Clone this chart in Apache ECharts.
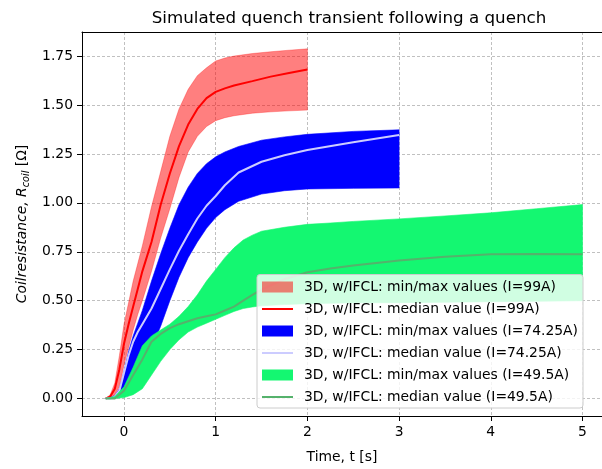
<!DOCTYPE html>
<html><head><meta charset="utf-8">
<script src="https://cdn.jsdelivr.net/npm/echarts@6/dist/echarts.min.js"></script>
<style>html,body{margin:0;padding:0;background:#fff}#c{width:602px;height:469px}</style>
</head><body><div id="c"></div>
<script>
const xTicks = [0, 1, 2, 3, 4, 5];
const yTicks = [0, 0.25, 0.5, 0.75, 1.0, 1.25, 1.5, 1.75];

// I = 99 A
const tRed    = [-0.2,-0.15,-0.1,-0.05,0,0.05,0.1,0.15,0.2,0.3,0.4,0.5,0.6,0.7,0.8,0.9,1.0,1.1,1.2,1.4,1.6,1.8,2.0];
const redLow  = [0,0,0.02,0.06,0.17,0.26,0.35,0.43,0.50,0.65,0.82,0.97,1.13,1.26,1.34,1.39,1.42,1.435,1.445,1.458,1.465,1.47,1.474];
const redMed  = [0,0.01,0.05,0.15,0.28,0.38,0.47,0.56,0.65,0.80,0.99,1.15,1.29,1.40,1.48,1.535,1.567,1.585,1.60,1.622,1.645,1.663,1.681];
const redHigh = [0,0.02,0.08,0.22,0.38,0.49,0.60,0.69,0.78,0.98,1.16,1.34,1.48,1.58,1.65,1.69,1.725,1.74,1.75,1.763,1.772,1.78,1.787];

// I = 74.25 A
const tBlue    = [-0.2,-0.15,-0.1,-0.05,0,0.05,0.1,0.15,0.2,0.3,0.4,0.5,0.6,0.7,0.8,0.9,1.0,1.1,1.25,1.5,1.75,2.0,2.5,3.0];
const blueLow  = [0,0,0.005,0.015,0.03,0.06,0.10,0.13,0.17,0.26,0.37,0.50,0.62,0.72,0.80,0.87,0.925,0.965,1.008,1.045,1.062,1.071,1.074,1.076];
const blueMed  = [0,0,0.01,0.04,0.13,0.22,0.29,0.34,0.38,0.46,0.56,0.66,0.755,0.84,0.92,0.985,1.035,1.09,1.155,1.21,1.243,1.27,1.31,1.347];
const blueHigh = [0,0.005,0.015,0.05,0.14,0.24,0.32,0.385,0.45,0.60,0.74,0.87,0.99,1.08,1.15,1.20,1.235,1.26,1.288,1.32,1.337,1.35,1.365,1.373];

// I = 49.5 A
const tGreen    = [-0.2,-0.1,0,0.1,0.2,0.3,0.4,0.5,0.6,0.7,0.8,0.9,1.0,1.1,1.2,1.3,1.4,1.5,1.75,2.0,2.25,2.5,3.0,3.5,4.0,4.5,5.0];
const greenLow  = [0,0,0.005,0.02,0.05,0.12,0.19,0.25,0.30,0.34,0.365,0.385,0.405,0.425,0.445,0.46,0.468,0.474,0.48,0.485,0.487,0.489,0.49,0.492,0.495,0.497,0.50];
const greenMed  = [0,0,0.04,0.12,0.20,0.29,0.33,0.36,0.38,0.395,0.41,0.42,0.43,0.45,0.47,0.50,0.53,0.557,0.61,0.645,0.665,0.68,0.705,0.725,0.737,0.738,0.737];
const greenHigh = [0,0.01,0.06,0.16,0.27,0.32,0.35,0.38,0.42,0.47,0.53,0.60,0.66,0.72,0.77,0.81,0.835,0.855,0.875,0.89,0.897,0.905,0.918,0.933,0.949,0.97,0.991];

const names = [
  '3D, w/IFCL: min/max values (I=99A)',
  '3D, w/IFCL: median value (I=99A)',
  '3D, w/IFCL: min/max values (I=74.25A)',
  '3D, w/IFCL: median value (I=74.25A)',
  '3D, w/IFCL: min/max values (I=49.5A)',
  '3D, w/IFCL: median value (I=49.5A)'
];

const FONT = 'DejaVu Sans';
const LINE_ICON = 'path://M0,0H100V6.5H0Z';
const X_MIN = -0.458, X_MAX = 5.213;

function band(name, t, lo, hi, color, z) {
  return {
    type: 'custom', name: name, z: z,
    coordinateSystem: 'cartesian2d',
    data: t.map((v, i) => [v, lo[i], hi[i]]),
    encode: { x: 0, y: [1, 2] },
    itemStyle: { color: color },
    silent: true,
    renderItem: function (params, api) {
      if (params.dataIndex !== 0) return null;
      const pts = [];
      for (let i = 0; i < t.length; i++) pts.push(api.coord([t[i], hi[i]]));
      for (let i = t.length - 1; i >= 0; i--) pts.push(api.coord([t[i], lo[i]]));
      return { type: 'polygon', shape: { points: pts }, style: { fill: color, stroke: color, lineWidth: 0.6 } };
    }
  };
}
function med(name, t, v, color, z) {
  return {
    type: 'line', name: name, z: z,
    data: t.map((x, i) => [x, v[i]]),
    symbol: 'none', showSymbol: false,
    lineStyle: { color: color, width: 2 },
    itemStyle: { color: color },
    silent: true, animation: false
  };
}

const chart = echarts.init(document.getElementById('c'));
chart.setOption({
  animation: false,
  backgroundColor: '#fff',
  title: {
    text: 'Simulated quench transient following a quench',
    left: 344, textAlign: 'center', top: 5,
    textStyle: { fontFamily: FONT, fontSize: 16.7, fontWeight: 'normal', color: '#000' }
  },
  grid: { left: 82, right: 0, top: 32, bottom: 51, show: false },
  legend: {
    orient: 'vertical', left: 257, top: 274.5,
    padding: [5.5, 5, 4, 5], itemGap: 8, itemWidth: 31, itemHeight: 11,
    backgroundColor: 'rgba(255,255,255,0.8)', borderColor: '#cccccc', borderWidth: 1, borderRadius: 3,
    z: 20,
    textStyle: { fontFamily: FONT, fontSize: 13.9, color: '#000', padding: [0, 0, 0, 6] },
    data: [
      { name: names[0], icon: 'rect' },
      { name: names[1], icon: LINE_ICON },
      { name: names[2], icon: 'rect' },
      { name: names[3], icon: LINE_ICON },
      { name: names[4], icon: 'rect' },
      { name: names[5], icon: LINE_ICON }
    ]
  },
  xAxis: [{
    type: 'value', min: X_MIN, max: X_MAX,
    name: 'Time, t [s]', nameLocation: 'middle', nameGap: 34,
    nameTextStyle: { fontFamily: FONT, fontSize: 13.9, color: '#000' },
    axisLine: { show: true, onZero: false, lineStyle: { color: '#000', width: 1 } },
    axisTick: { show: true, length: 5, lineStyle: { color: '#000', width: 1 }, customValues: xTicks },
    axisLabel: { customValues: xTicks, margin: 9, fontFamily: FONT, fontSize: 13.9, color: '#000', formatter: v => String(v) },
    splitLine: { show: true, lineStyle: { color: '#b0b0b0', width: 0.8, type: [3, 2] } }
  }, {
    type: 'value', position: 'top', min: X_MIN, max: X_MAX,
    axisLine: { show: true, onZero: false, lineStyle: { color: '#000', width: 1 } },
    axisTick: { show: false }, axisLabel: { show: false }, splitLine: { show: false }
  }],
  yAxis: {
    type: 'value', min: -0.0892, max: 1.873,
    name: '{i|Coilresistance, R}{s|coil}{n| [Ω]}', nameLocation: 'middle', nameGap: 50,
    nameTextStyle: {
      fontFamily: FONT, fontSize: 13.9, color: '#000',
      rich: {
        i: { fontFamily: FONT, fontStyle: 'italic', fontSize: 13.9, lineHeight: 18, color: '#000' },
        s: { fontFamily: FONT, fontStyle: 'italic', fontSize: 9.7, lineHeight: 11, verticalAlign: 'bottom', color: '#000' },
        n: { fontFamily: FONT, fontSize: 13.9, lineHeight: 18, color: '#000' }
      }
    },
    axisLine: { show: true, onZero: false, lineStyle: { color: '#000', width: 1 } },
    axisTick: { show: true, length: 5, lineStyle: { color: '#000', width: 1 }, customValues: yTicks },
    axisLabel: { customValues: yTicks, margin: 9, fontFamily: FONT, fontSize: 13.9, color: '#000', formatter: v => v.toFixed(2) },
    splitLine: { show: true, lineStyle: { color: '#b0b0b0', width: 0.8, type: [3, 2] } }
  },
  series: [
    band(names[0], tRed, redLow, redHigh, 'rgba(255,0,0,0.5)', 2),
    med(names[1], tRed, redMed, '#ff0000', 3),
    band(names[2], tBlue, blueLow, blueHigh, '#0000ff', 4),
    med(names[3], tBlue, blueMed, '#ccccff', 5),
    band(names[4], tGreen, greenLow, greenHigh, '#14f771', 6),
    med(names[5], tGreen, greenMed, '#55b26c', 7)
  ]
});
</script></body></html>
